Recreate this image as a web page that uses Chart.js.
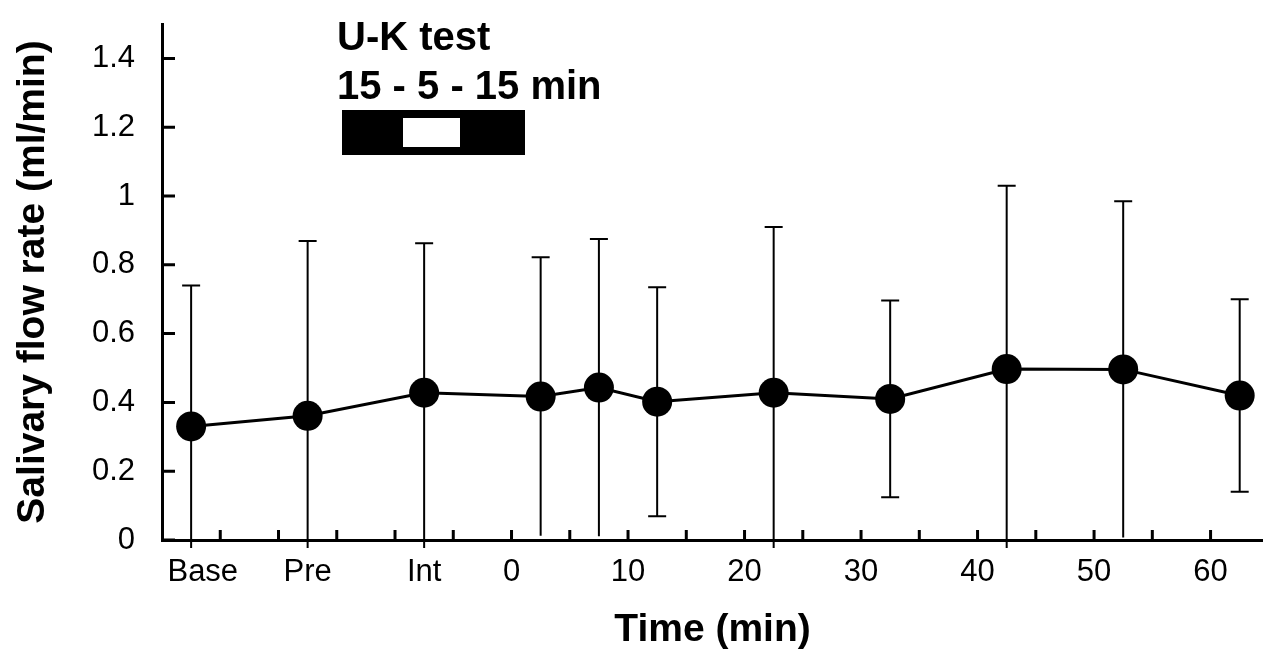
<!DOCTYPE html>
<html>
<head>
<meta charset="utf-8">
<script src="https://cdn.jsdelivr.net/npm/chart.js@4/dist/chart.umd.min.js"></script>
<style>
  html, body { margin: 0; padding: 0; background: #fff; }
  #wrap { width: 1263px; height: 650px; }
</style>
</head>
<body>
<div id="wrap"><canvas id="chartSaliva"></canvas></div>
<script>
// Datos: tiempo (min) de cada medición, media y desviación estándar
const times = [-27.5, -17.5, -7.5, 2.5, 7.5, 12.5, 22.5, 32.5, 42.5, 52.5, 62.5];
const means = [0.33, 0.361, 0.428, 0.417, 0.443, 0.402, 0.428, 0.41, 0.497, 0.496, 0.42];
const sds = [0.41, 0.508, 0.435, 0.405, 0.432, 0.333, 0.482, 0.286, 0.533, 0.489, 0.28];

// Etiquetas del eje x
const xTickValues = [-26.5, -17.5, -7.5, 0, 10, 20, 30, 40, 50, 60];
const xTickLabels = ['Base', 'Pre', 'Int', '0', '10', '20', '30', '40', '50', '60'];
// Marcas menores del eje x (cada 5 min)
const xMinorTicks = [];
for (let t = -25; t <= 60; t += 5) xMinorTicks.push(t);
// Eje y
const yTickValues = [0, 0.2, 0.4, 0.6, 0.8, 1, 1.2, 1.4];

const FONT = 'Liberation Sans, Arial, Helvetica, sans-serif';

// Barras de error (media + / - DE)
const errorBars = {
  id: 'errorBars',
  beforeDatasetsDraw(chart) {
    const { ctx, scales: { x, y } } = chart;
    const y0 = y.getPixelForValue(0);
    ctx.save();
    ctx.strokeStyle = '#000';
    ctx.lineWidth = 2;
    times.forEach((t, i) => {
      const px = x.getPixelForValue(t);
      const hi = means[i] + sds[i];
      const lo = means[i] - sds[i];
      const yTop = y.getPixelForValue(hi);
      let yBot = lo < 0 ? y0 + 8 : y.getPixelForValue(lo);
      ctx.beginPath();
      ctx.moveTo(px, yTop);
      ctx.lineTo(px, yBot);
      ctx.moveTo(px - 9, yTop);
      ctx.lineTo(px + 9, yTop);
      // sin tapa cuando el extremo inferior toca el eje
      if (lo >= 0 && y0 - yBot > 8) {
        ctx.moveTo(px - 9, yBot);
        ctx.lineTo(px + 9, yBot);
      }
      ctx.stroke();
    });
    ctx.restore();
  }
};

// Marcas hacia adentro y recuadro del test U-K
const decoraciones = {
  id: 'decoraciones',
  afterDraw(chart) {
    const { ctx, chartArea, scales: { x, y } } = chart;
    ctx.save();
    ctx.strokeStyle = '#000';
    ctx.lineWidth = 3;
    ctx.beginPath();
    yTickValues.forEach(v => {
      const py = y.getPixelForValue(v);
      ctx.moveTo(chartArea.left, py);
      ctx.lineTo(chartArea.left + 13, py);
    });
    xMinorTicks.forEach(v => {
      const px = x.getPixelForValue(v);
      ctx.moveTo(px, chartArea.bottom);
      ctx.lineTo(px, chartArea.bottom - 10);
    });
    ctx.stroke();

    // Leyenda del protocolo
    const lx = chartArea.left + 175;
    ctx.fillStyle = '#000';
    ctx.font = 'bold 40px ' + FONT;
    ctx.textBaseline = 'alphabetic';
    ctx.textAlign = 'left';
    ctx.fillText('U-K test', lx, 50);
    ctx.fillText('15 - 5 - 15 min', lx, 99);
    ctx.fillRect(lx + 5, 110, 183, 45);
    ctx.fillStyle = '#fff';
    ctx.fillRect(lx + 66, 118, 57, 29);
    ctx.restore();
  }
};

const ctx = document.getElementById('chartSaliva').getContext('2d');

const chartSaliva = new Chart(ctx, {
  type: 'line',
  data: {
    datasets: [{
      label: 'Salivary flow rate',
      data: times.map((t, i) => ({ x: t, y: means[i] })),
      borderColor: '#000',
      backgroundColor: '#000',
      borderWidth: 3,
      pointRadius: 15,
      pointHoverRadius: 15,
      pointBackgroundColor: '#000',
      pointBorderWidth: 0,
      tension: 0
    }]
  },
  options: {
    responsive: true,
    maintainAspectRatio: false,
    animation: false,
    clip: false,
    layout: { autoPadding: false, padding: { top: 24, right: 0, left: 0, bottom: 0 } },
    plugins: {
      legend: { display: false },
      tooltip: { enabled: false }
    },
    scales: {
      x: {
        type: 'linear',
        min: -30,
        max: 64.5,
        afterBuildTicks: (scale) => {
          scale.ticks = xTickValues.map(v => ({ value: v }));
        },
        afterFit: (scale) => {
          scale.height = 110;
          scale.paddingLeft = 0;
          scale.paddingRight = 0;
        },
        ticks: {
          autoSkip: false,
          maxRotation: 0,
          padding: 14,
          color: '#000',
          font: { family: FONT, size: 31 },
          callback: (value) => {
            const i = xTickValues.indexOf(value);
            return i >= 0 ? xTickLabels[i] : '';
          }
        },
        grid: { display: false, drawTicks: false },
        border: { display: true, color: '#000', width: 3 },
        title: {
          display: true,
          text: 'Time (min)',
          color: '#000',
          font: { family: FONT, size: 39, weight: 'bold', lineHeight: 1 },
          padding: { top: -3, bottom: 0 }
        }
      },
      y: {
        min: 0,
        max: 1.5,
        afterBuildTicks: (scale) => {
          scale.ticks = yTickValues.map(v => ({ value: v }));
        },
        afterFit: (scale) => {
          scale.width = 162;
          scale.paddingTop = 0;
          scale.paddingBottom = 0;
        },
        ticks: {
          padding: 27,
          color: '#000',
          font: { family: FONT, size: 31 },
          callback: (value) => String(Math.round(value * 10) / 10)
        },
        grid: { display: false, drawTicks: false },
        border: { display: true, color: '#000', width: 3 },
        title: {
          display: true,
          text: 'Salivary flow rate (ml/min)',
          color: '#000',
          font: { family: FONT, size: 39, weight: 'bold', lineHeight: 1 },
          padding: { top: 14, bottom: 0 }
        }
      }
    }
  },
  plugins: [errorBars, decoraciones]
});
</script>
</body>
</html>
